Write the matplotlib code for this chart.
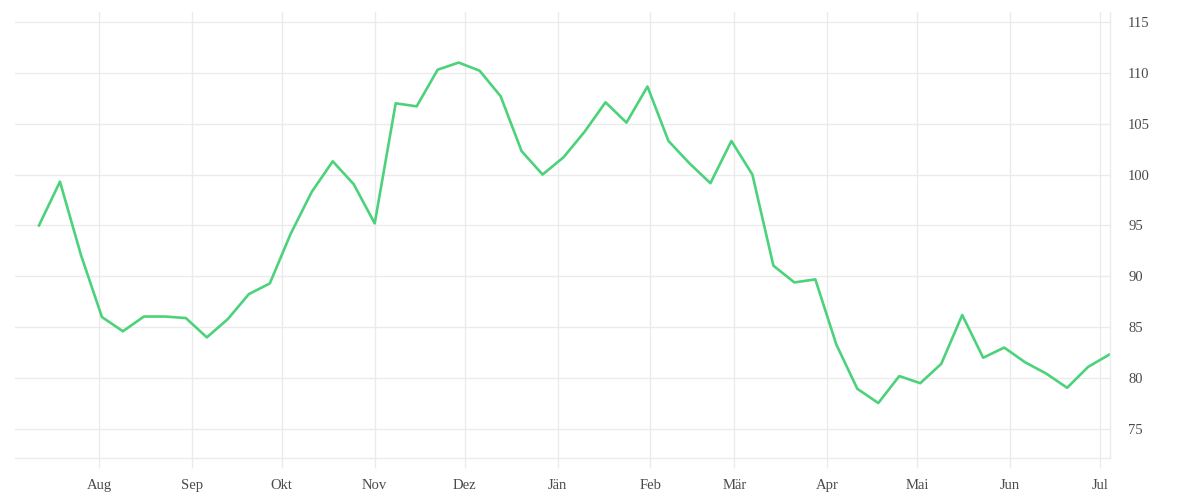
import matplotlib
matplotlib.use("Agg")
import matplotlib.pyplot as plt
import numpy as np
import pandas as pd

# weekly values
values = [95.0, 99.3, 92.1, 86.0, 84.6, 86.05, 86.05, 85.9, 84.0, 85.8,
          88.25, 89.3, 94.2, 98.3, 101.3, 99.05, 95.2, 107.0, 106.7, 110.3,
          111.0, 110.2, 107.7, 102.3, 100.0, 101.7, 104.2, 107.1, 105.1, 108.65,
          103.3, 101.1, 99.15, 103.3, 100.0, 91.05, 89.4, 89.7, 83.3, 78.95,
          77.55, 80.2, 79.5, 81.4, 86.2, 82.0, 83.0, 81.55, 80.45, 79.05,
          81.1, 82.3]
start_date = "2022-07-12"
month_labels = ["Aug", "Sep", "Okt", "Nov", "Dez", "Jän", "Feb", "Mär",
                "Apr", "Mai", "Jun", "Jul"]
y_ticks = [75, 80, 85, 90, 95, 100, 105, 110, 115]

dates = pd.date_range(start_date, periods=len(values), freq="7D")
month_ticks = pd.date_range("2022-08-01", periods=len(month_labels), freq="MS")

grid_col = "#ebebeb"
text_col = "#4a4a4a"

fig = plt.figure(figsize=(12, 5), dpi=100)
ax = fig.add_axes([0.0125, 0.084, 0.9125, 0.892])

ax.plot(dates, values, color="#4cd27b", lw=1.9)

ax.set_xlim(dates[0] - pd.Timedelta(days=8), dates[-1] + pd.Timedelta(days=0.3))
ax.set_ylim(72.15, 115.97)

ax.set_xticks(month_ticks)
ax.set_xticklabels(month_labels)
ax.set_yticks(y_ticks)
ax.set_yticklabels([str(v) for v in y_ticks])

ax.yaxis.tick_right()
ax.tick_params(axis="y", length=0, pad=13, labelsize=10.5, labelcolor=text_col)
ax.tick_params(axis="x", length=7.5, width=1, color=grid_col, pad=7.5,
               labelsize=10.5, labelcolor=text_col)
for lab in ax.get_xticklabels() + ax.get_yticklabels():
    lab.set_family("Liberation Serif")
for lab in ax.get_yticklabels():
    lab.set_horizontalalignment("left")

ax.grid(True, color=grid_col, lw=1)
ax.set_axisbelow(True)
for side in ["left", "top"]:
    ax.spines[side].set_visible(False)
for side in ["right", "bottom"]:
    ax.spines[side].set_color(grid_col)
    ax.spines[side].set_linewidth(1)

fig.savefig("out.png", dpi=100)
